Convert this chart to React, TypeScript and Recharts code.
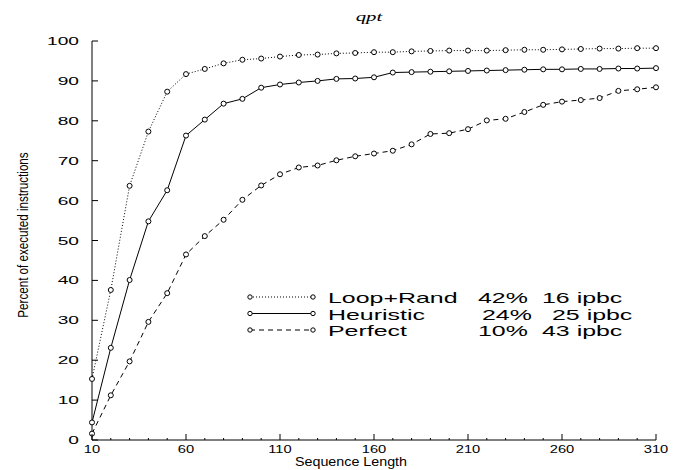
import React from 'react'
import { LineChart, Line, XAxis, YAxis, Customized } from 'recharts'

// sequence length (x) and percent of executed instructions per predictor
const seqLen = [10, 20, 30, 40, 50, 60, 70, 80, 90, 100, 110, 120, 130, 140, 150, 160, 170, 180, 190, 200, 210, 220, 230, 240, 250, 260, 270, 280, 290, 300, 310]
const loopRand = [15.3, 37.6, 63.7, 77.3, 87.3, 91.7, 93.0, 94.4, 95.3, 95.6, 96.1, 96.5, 96.6, 96.9, 97.0, 97.2, 97.2, 97.4, 97.5, 97.6, 97.6, 97.6, 97.7, 97.8, 97.8, 97.9, 98.0, 98.1, 98.1, 98.2, 98.2]
const heuristic = [4.4, 23.1, 40.1, 54.8, 62.6, 76.3, 80.3, 84.3, 85.5, 88.3, 89.1, 89.6, 90.0, 90.5, 90.6, 90.9, 92.1, 92.2, 92.3, 92.4, 92.5, 92.6, 92.7, 92.8, 92.9, 92.9, 93.0, 93.0, 93.1, 93.1, 93.2]
const perfect = [1.6, 11.2, 19.7, 29.6, 36.8, 46.5, 51.1, 55.2, 60.2, 63.8, 66.6, 68.3, 68.8, 70.1, 71.1, 71.8, 72.5, 74.1, 76.7, 76.9, 77.9, 80.1, 80.5, 82.2, 84.0, 84.8, 85.2, 85.7, 87.5, 87.9, 88.4]

const xTicks = [10, 20, 30, 40, 50, 60, 70, 80, 90, 100, 110, 120, 130, 140, 150, 160, 170, 180, 190, 200, 210, 220, 230, 240, 250, 260, 270, 280, 290, 300, 310]
const xLabeled = [10, 60, 110, 160, 210, 260, 310]
const yTicks = [0, 10, 20, 30, 40, 50, 60, 70, 80, 90, 100]

const seriesNames = ['Loop+Rand', 'Heuristic', 'Perfect']
const percentLabels = ['42%', '24%', '10%']
const ipbcLabels = ['16 ipbc', '25 ipbc', '43 ipbc']

const data = seqLen.map((len, i) => ({
  len,
  loopRand: loopRand[i],
  heuristic: heuristic[i],
  perfect: perfect[i],
}))

const FONT = '"Liberation Sans", Arial, sans-serif'
const dashes = ['1 2', undefined, '5 4']

// gnuplot output is stretched sideways, so text is scaled in x
function WideText({ x, y, sx, anchor = 'start', size, family = FONT, italic = false, children }: any) {
  return (
    <text
      transform={`translate(${x},${y}) scale(${sx},1)`}
      textAnchor={anchor}
      fontFamily={family}
      fontSize={size}
      fontStyle={italic ? 'italic' : 'normal'}
      fill="#000"
    >
      {children}
    </text>
  )
}

function BottomTick({ x, y, payload }: any) {
  const major = xLabeled.includes(payload.value)
  return (
    <g>
      <line x1={x} y1={y} x2={x} y2={y - (major ? 6 : 2)} stroke="#000" />
      {major && <WideText x={x} y={y + 13} sx={1.4} anchor="middle" size={10.5}>{payload.value}</WideText>}
    </g>
  )
}

function TopTick({ x, y, payload }: any) {
  const major = xLabeled.includes(payload.value)
  return <line x1={x} y1={y} x2={x} y2={y + (major ? 6 : 2)} stroke="#000" />
}

function LeftTick({ x, y, payload }: any) {
  return (
    <g>
      <line x1={x} y1={y} x2={x + 6} y2={y} stroke="#000" />
      <WideText x={x - 13} y={y + 4} sx={1.65} anchor="end" size={11.6}>{payload.value}</WideText>
    </g>
  )
}

function RightTick({ x, y }: any) {
  return <line x1={x} y1={y} x2={x - 6} y2={y} stroke="#000" />
}

function Decorations() {
  const rowY = [303, 319.5, 336]
  const pctX = [478, 482, 478]
  const ipbcX = [542, 552, 542]
  return (
    <g>
      <WideText x={369} y={21} sx={1.6} anchor="middle" size={13} family='"Liberation Serif", serif' italic>qpt</WideText>
      <WideText x={351} y={466} sx={1.1} anchor="middle" size={13}>Sequence Length</WideText>
      <text
        transform="translate(28,235) rotate(-90) scale(0.83,1)"
        textAnchor="middle"
        fontFamily={FONT}
        fontSize={14}
        fill="#000"
      >
        Percent of executed instructions
      </text>
      {seriesNames.map((name, i) => {
        const ly = rowY[i] - 6
        return (
          <g key={name}>
            <line x1={250} y1={ly} x2={313} y2={ly} stroke="#000" strokeDasharray={dashes[i]} />
            <circle cx={250} cy={ly} r={2.2} fill="#fff" stroke="#000" />
            <circle cx={313} cy={ly} r={2.2} fill="#fff" stroke="#000" />
            <WideText x={328} y={rowY[i]} sx={1.78} size={14}>{name}</WideText>
            <WideText x={pctX[i]} y={rowY[i]} sx={1.78} size={14}>{percentLabels[i]}</WideText>
            <WideText x={ipbcX[i]} y={rowY[i]} sx={1.78} size={14}>{ipbcLabels[i]}</WideText>
          </g>
        )
      })}
    </g>
  )
}

export default function App() {
  const dot = { r: 2.5, fill: '#fff', stroke: '#000', strokeWidth: 1, strokeDasharray: 'none' }
  return (
    <div style={{ position: 'absolute', left: 0, top: 0, width: 678, height: 470, background: '#fff' }}>
      <LineChart width={678} height={470} data={data} margin={{ top: 41, right: 22, bottom: 0, left: 0 }}>
        <XAxis
          dataKey="len"
          type="number"
          domain={[10, 310]}
          ticks={xTicks}
          interval={0}
          height={30}
          tickSize={0}
          tickMargin={0}
          tickLine={false}
          axisLine={{ stroke: '#000' }}
          tick={<BottomTick />}
        />
        <XAxis
          xAxisId="top"
          orientation="top"
          dataKey="len"
          type="number"
          domain={[10, 310]}
          ticks={xTicks}
          interval={0}
          height={0}
          tickSize={0}
          tickMargin={0}
          tickLine={false}
          axisLine={{ stroke: '#000' }}
          tick={<TopTick />}
        />
        <YAxis
          type="number"
          domain={[0, 100]}
          ticks={yTicks}
          interval={0}
          width={92}
          tickSize={0}
          tickMargin={0}
          tickLine={false}
          axisLine={{ stroke: '#000' }}
          tick={<LeftTick />}
        />
        <YAxis
          yAxisId="right"
          orientation="right"
          type="number"
          domain={[0, 100]}
          ticks={yTicks}
          interval={0}
          width={0}
          tickSize={0}
          tickMargin={0}
          tickLine={false}
          axisLine={{ stroke: '#000' }}
          tick={<RightTick />}
        />
        <Line dataKey="loopRand" name={seriesNames[0]} stroke="#000" strokeWidth={1} strokeDasharray={dashes[0]} dot={dot} isAnimationActive={false} />
        <Line dataKey="heuristic" name={seriesNames[1]} stroke="#000" strokeWidth={1} dot={dot} isAnimationActive={false} />
        <Line dataKey="perfect" name={seriesNames[2]} stroke="#000" strokeWidth={1} strokeDasharray={dashes[2]} dot={dot} isAnimationActive={false} />
        <Customized component={<Decorations />} />
      </LineChart>
    </div>
  )
}
